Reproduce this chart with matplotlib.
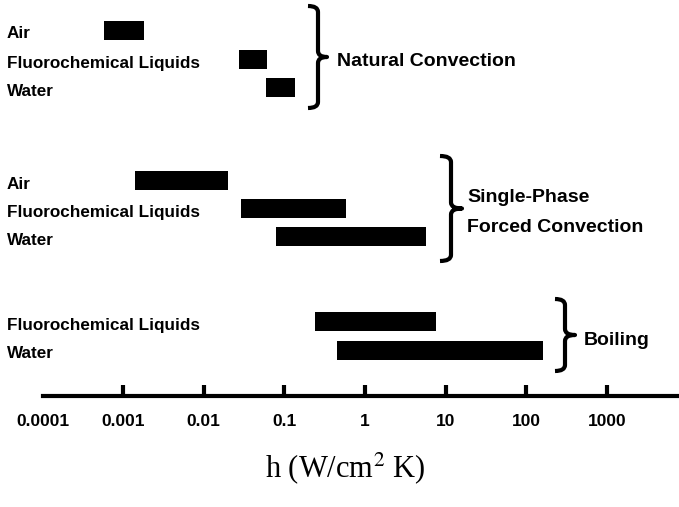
import matplotlib
matplotlib.use("Agg")
import matplotlib.pyplot as plt
import matplotlib.transforms as mtransforms
from matplotlib.path import Path
from matplotlib.patches import PathPatch

plt.rcParams['font.family'] = ['Liberation Sans', 'DejaVu Sans']
plt.rcParams['mathtext.fontset'] = 'stix'

# heat transfer coefficient ranges, W/cm^2 K (low, high)
natural_fluids = ['Air', 'Fluorochemical Liquids', 'Water']
natural_low = [0.00058, 0.027, 0.059]
natural_high = [0.0018, 0.061, 0.135]

forced_fluids = ['Air', 'Fluorochemical Liquids', 'Water']
forced_low = [0.0014, 0.029, 0.079]
forced_high = [0.020, 0.58, 5.7]

boiling_fluids = ['Fluorochemical Liquids', 'Water']
boiling_low = [0.24, 0.45]
boiling_high = [7.6, 161]

tick_values = [0.0001, 0.001, 0.01, 0.1, 1, 10, 100, 1000]
tick_labels = ['0.0001', '0.001', '0.01', '0.1', '1', '10', '100', '1000']

W, H = 679, 507
fig = plt.figure(figsize=(W / 100, H / 100), dpi=100)
ax = fig.add_axes([0, 0, 1, 1])
ax.set_xscale('log')
ax.set_xlim(10 ** (-365 / 80.6), 10 ** ((W - 365) / 80.6))
ax.set_ylim(H, 0)

# x in axes fraction (pixels / width), y in data rows
mixed = mtransforms.blended_transform_factory(ax.transAxes, ax.transData)

groups = [
    (natural_fluids, natural_low, natural_high, [30, 59.5, 87.5]),
    (forced_fluids, forced_low, forced_high, [180.5, 208.5, 236.5]),
    (boiling_fluids, boiling_low, boiling_high, [321.5, 350]),
]
label_style = dict(fontsize=12.3, fontweight='bold', color='black',
                   transform=mixed, ha='left', va='baseline')
for fluids, lo, hi, rows in groups:
    widths = [h - l for l, h in zip(lo, hi)]
    ax.barh(rows, widths, left=lo, height=19, color='black', linewidth=0)
    for name, r in zip(fluids, rows):
        ax.text(7 / W, r + 8.5, name, **label_style)


def brace(x_left, x_stem, x_tip, y_top, y_bot, hook=6):
    mid = (y_top + y_bot) / 2
    L, S, T = x_left / W, x_stem / W, x_tip / W
    verts = [(L, y_top), (S, y_top), (S, y_top + hook),
             (S, mid - hook),
             (S, mid), (T, mid),
             (S, mid), (S, mid + hook),
             (S, y_bot - hook),
             (S, y_bot), (L, y_bot)]
    codes = [Path.MOVETO, Path.CURVE3, Path.CURVE3,
             Path.LINETO,
             Path.CURVE3, Path.CURVE3,
             Path.CURVE3, Path.CURVE3,
             Path.LINETO,
             Path.CURVE3, Path.CURVE3]
    ax.add_patch(PathPatch(Path(verts, codes), transform=mixed, fill=False,
                           lw=3, edgecolor='black', capstyle='butt',
                           joinstyle='round'))


brace(308, 318, 327, 6, 108)
brace(440, 451, 462, 156, 261)
brace(555, 565, 575, 299, 371)

group_style = dict(fontsize=14, fontweight='bold', color='black',
                   transform=mixed, ha='left', va='baseline')
ax.text(337 / W, 66, 'Natural Convection', **group_style)
ax.text(467 / W, 202, 'Single-Phase', **group_style)
ax.text(467 / W, 232, 'Forced Convection', **group_style)
ax.text(584 / W, 345, 'Boiling', **group_style)

# axis line with upward ticks
for side in ['top', 'left', 'right']:
    ax.spines[side].set_visible(False)
ax.spines['bottom'].set_position(('data', 396))
ax.spines['bottom'].set_bounds(0.0001, ax.get_xlim()[1])
ax.spines['bottom'].set_linewidth(3)
ax.set_yticks([])
ax.set_xticks(tick_values, tick_labels)
ax.xaxis.set_minor_locator(matplotlib.ticker.NullLocator())
ax.tick_params(axis='x', direction='in', length=8, width=3, pad=13,
               labelsize=12.5)
for lab in ax.get_xticklabels():
    lab.set_fontweight('bold')
ax.xaxis.get_major_ticks()[0].tick1line.set_visible(False)

ax.text(345.5 / W, 468, 'h (W/cm$^2$ K)', transform=mixed, ha='center',
        va='center', fontsize=22, family=['Liberation Serif', 'DejaVu Serif'])

fig.savefig('out.png', dpi=100)
